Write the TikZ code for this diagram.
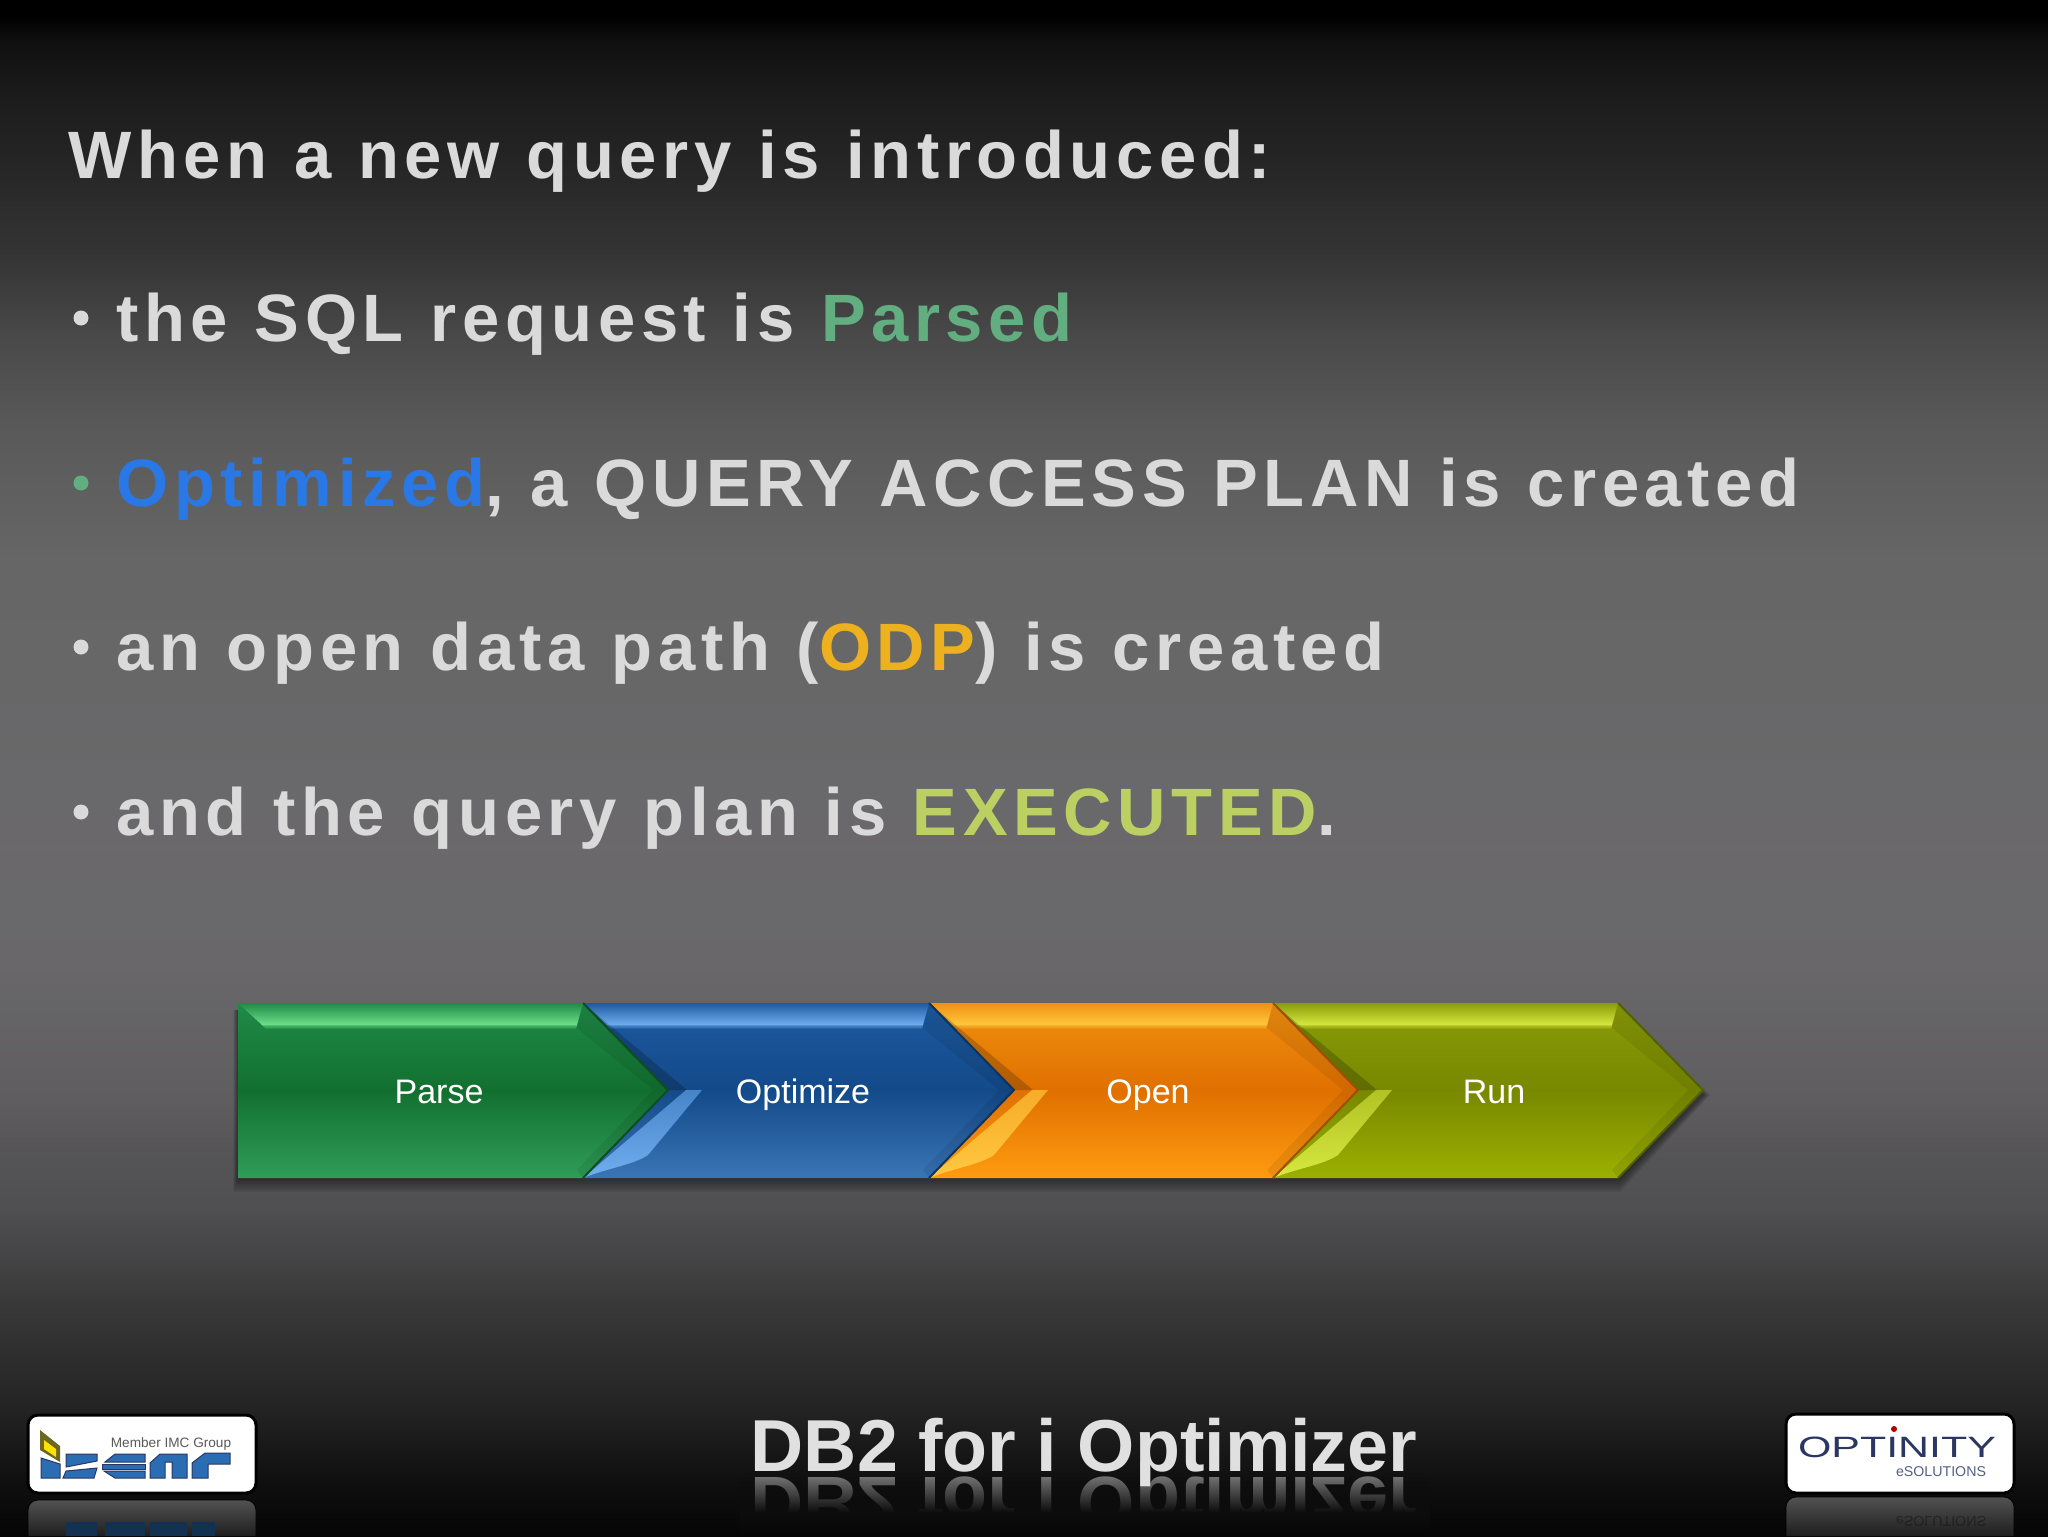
\documentclass[tikz,border=0pt]{standalone}
\usepackage{fontspec}
\setmainfont{Liberation Sans}
\newfontfamily\slidefont[LetterSpace=8.4,WordSpace=1.1]{Liberation Sans}
\usetikzlibrary{positioning}
\usetikzlibrary{fadings}
\definecolor{bodygray}{HTML}{DADADA}
\definecolor{gParse}{HTML}{62AE80}
\definecolor{gOptim}{HTML}{2A78E6}
\definecolor{gOdp}{HTML}{EDB01E}
\definecolor{gExec}{HTML}{BCCF62}
\definecolor{logoblue}{HTML}{2A6DB2}
\definecolor{logonavy}{HTML}{2B3763}
\definecolor{greenA}{HTML}{1F8A48}
\definecolor{greenB}{HTML}{12702F}
\definecolor{greenC}{HTML}{2F9D58}
\definecolor{greenD}{HTML}{6FE08A}
\definecolor{blueA}{HTML}{1D5AA0}
\definecolor{blueB}{HTML}{134A8A}
\definecolor{blueC}{HTML}{3A75B5}
\definecolor{blueD}{HTML}{70AEF0}
\definecolor{orangeA}{HTML}{F09010}
\definecolor{orangeB}{HTML}{E07000}
\definecolor{orangeC}{HTML}{FF9C10}
\definecolor{orangeD}{HTML}{FFC840}
\definecolor{oliveA}{HTML}{8A9C08}
\definecolor{oliveB}{HTML}{788800}
\definecolor{oliveC}{HTML}{9CB000}
\definecolor{oliveD}{HTML}{D8E840}
\pgfdeclareverticalshading{slidebg}{100bp}{
  rgb(0bp)=(0.02,0.02,0.02); rgb(25bp)=(0.02,0.02,0.02); rgb(26.8bp)=(0.06,0.06,0.06); rgb(29.4bp)=(0.145,0.145,0.145);
  rgb(32.7bp)=(0.225,0.225,0.23); rgb(34bp)=(0.265,0.265,0.27); rgb(35.6bp)=(0.31,0.31,0.32); rgb(37.6bp)=(0.335,0.33,0.34);
  rgb(39.2bp)=(0.37,0.365,0.375); rgb(43.75bp)=(0.41,0.405,0.415); rgb(47.35bp)=(0.415,0.41,0.42); rgb(56.75bp)=(0.4,0.4,0.4);
  rgb(61bp)=(0.35,0.35,0.35); rgb(63.9bp)=(0.29,0.29,0.29); rgb(66.5bp)=(0.21,0.21,0.21); rgb(69.5bp)=(0.15,0.15,0.15);
  rgb(71.75bp)=(0.11,0.11,0.11); rgb(73.7bp)=(0.06,0.06,0.06); rgb(74.5bp)=(0,0,0); rgb(100bp)=(0,0,0)}
\tikzstyle{bodyline}=[anchor=base west,inner sep=0pt,text=bodygray,font=\slidefont\bfseries\fontsize{33.5}{40}\selectfont]
\tikzstyle{bullet}=[circle,inner sep=0pt,minimum size=15pt/2]
\tikzstyle{chevlabel}=[anchor=base,text=white,inner sep=0pt,font=\fontsize{17}{20}\selectfont]
\tikzstyle{footer}=[anchor=base,inner sep=0pt,font=\bfseries\fontsize{36.8}{44}\selectfont]
\tikzstyle{logocard}=[draw=black,line width=1.5pt,fill=white,rounded corners=5pt]
\tikzstyle{logoletter}=[fill=logoblue,draw=logonavy,line width=0.5pt]
\tikzstyle{mirror}=[rounded corners=5pt,top color=black!68,bottom color=black!88]
\begin{document}
\begin{tikzpicture}[x=0.5pt,y=-0.5pt]
  \useasboundingbox (0,0) rectangle (2048,1536);
  \shade[shading=slidebg] (0,0) rectangle (2048,1536);

  % text lines
  \node[bodyline] (intro) at (68,178) {When a new query is introduced:};
  \foreach \y/\name/\bcol/\label in {
      341/sql/bodygray/{the SQL request is \textcolor{gParse}{Parsed}},
      506/plan/gParse/{\textcolor{gOptim}{Optimized}, a QUERY ACCESS PLAN is created},
      670/odp/bodygray/{an open data path (\textcolor{gOdp}{ODP}) is created},
      835/exec/bodygray/{and the query plan is \textcolor{gExec}{EXECUTED}.}}
  {
    \node[bodyline] (\name) at (116,\y) {\label};
    \node[bullet,fill=\bcol] (b\name) at (81,\y-23) {};
  }

  % shadow of the arrow row
  \foreach \o in {2,4,...,14}
    \fill[black,opacity=0.07] (238-\o/3,1010) -- (1617,1010) -- (1703+\o/2,1095) -- (1620,1178+\o) -- (238-\o/3,1178+\o) -- cycle;

  % arrows, last one first so that each tip lies on the next
  \foreach \p/\s/\a/\b/\c/\d in {1273/1618/oliveA/oliveB/oliveC/oliveD, 929/1273/orangeA/orangeB/orangeC/orangeD, 583/929/blueA/blueB/blueC/blueD, 238/583/greenA/greenB/greenC/greenD}
  {
    \shade[top color=\a,bottom color=\c,middle color=\b] (\p,1003) -- (\s,1003) -- (\s+85,1090) -- (\s,1178) -- (\p,1178) -- cycle;
    \fill[black,opacity=0.07] (\s,1003) -- (\s+85,1090) -- (\s,1178) -- (\s-6,1170) -- (\s+70,1090) -- (\s-6,1028) -- cycle;
    \shade[top color=\a,bottom color=\d] (\p,1003) -- (\s,1003) -- (\s-6,1025) -- (\p+24,1025) -- cycle;
    \shade[top color=\d,bottom color=\a,opacity=0.6] (\s-6,1025) -- (\s-7,1029) -- (\p+28,1029) -- (\p+24,1025) -- cycle;
    \draw[\b!70!black,line width=1pt] (\s,1003) -- (\s+85,1090) -- (\s,1178);
    % highlight along the lower side of the notch
    \ifnum\p>300
      \fill[black,opacity=0.2] (\p,1003) -- (\p+104,1090) -- (\p+84,1090) -- cycle;
      \shade[top color=\d!50!\a,bottom color=\d] (\p+103,1090) -- (\p+119,1090) -- (\p+65,1155) .. controls (\p+50,1165) and (\p+25,1168) .. (\p,1178) -- cycle;
    \fi
  }
  \foreach \x/\name/\label in {439/parse/Parse, 803/optimize/Optimize, 1148/open/Open, 1494/run/Run}
    \node[chevlabel] (\name) at (\x,1103) {\label};

  % left logo
  \draw[mirror] (28,1536) -- (28,1500) -- (256,1500) -- (256,1536);
  \fill[logoblue!45!black] (66,1536) -- (66,1522) -- (97,1522) -- (97,1536) -- cycle;
  \fill[logoblue!45!black] (105,1536) -- (105,1522) -- (145,1522) -- (145,1536) -- cycle;
  \fill[logoblue!45!black] (150,1536) -- (150,1522) -- (187,1522) -- (187,1536) -- cycle;
  \fill[logoblue!45!black] (192,1536) -- (192,1522) -- (215,1522) -- (215,1536) -- cycle;
  \draw[logocard] (28,1415) rectangle (256,1493);
  \node[inner sep=0pt,text=black!65,font=\fontsize{6.8}{8}\selectfont] (member) at (171,1444) {Member IMC Group};
  \fill[olive!70!black] (40,1430) -- (60,1446) -- (60,1462) -- (40,1450) -- cycle;
  \fill[yellow!85!orange] (44,1440) -- (56,1449) -- (56,1457) -- (44,1449) -- cycle;
  \draw[logoletter] (41,1458) -- (60,1464) -- (60,1478) -- (41,1478) -- cycle;
  \draw[logoletter] (66,1454) -- (97,1454) -- (97,1461) -- (66,1467) -- cycle;
  \draw[logoletter] (63,1478) -- (94,1478) -- (97,1468) -- (66,1471) -- cycle;
  \draw[logoletter] (105,1462) -- (115,1454) -- (145,1454) -- (145,1462) -- cycle;
  \draw[logoletter] (102,1464) -- (145,1464) -- (145,1469) -- (102,1469) -- cycle;
  \draw[logoletter] (104,1471) -- (145,1471) -- (145,1478) -- (115,1478) -- cycle;
  \draw[logoletter] (150,1478) -- (150,1463) -- (160,1454) -- (187,1454) -- (187,1478) -- (172,1478) -- (172,1462) -- (165,1462) -- (165,1478) -- cycle;
  \draw[logoletter] (192,1478) -- (192,1463) -- (205,1453) -- (230,1453) -- (230,1464) -- (208,1464) -- (208,1478) -- cycle;

  % right logo
  \draw[mirror] (1786,1536) -- (1786,1497) -- (2014,1497) -- (2014,1536);
  \draw[logocard] (1786,1414) rectangle (2014,1493);
  \node[inner sep=0pt,xscale=1.46,text=logonavy,font=\fontsize{14.7}{18}\selectfont] (optinity) at (1897,1447.5) {OPTINITY};
  \fill[red!70!black] (1894,1429) circle (3);
  \node[inner sep=0pt,text=logonavy!80,font=\fontsize{7.1}{8}\selectfont] (esol) at (1941,1471.5) {eSOLUTIONS};
  \node[inner sep=0pt,yscale=-1,opacity=0.35,text=black,font=\fontsize{7.1}{8}\selectfont] (esolmirror) at (1941,1521) {eSOLUTIONS};

  % footer with its reflection
  \node[footer,yscale=-1,text=black!55] (titlemirror) at (1084,1477) {DB2 for i Optimizer};
  \fill[black!95,path fading=north] (740,1476) rectangle (1430,1512);
  \shade[top color=black!95,bottom color=black!98] (740,1512) rectangle (1430,1536);
  \node[footer,text=black!12] (title) at (1084,1471) {DB2 for i Optimizer};
\end{tikzpicture}
\end{document}
